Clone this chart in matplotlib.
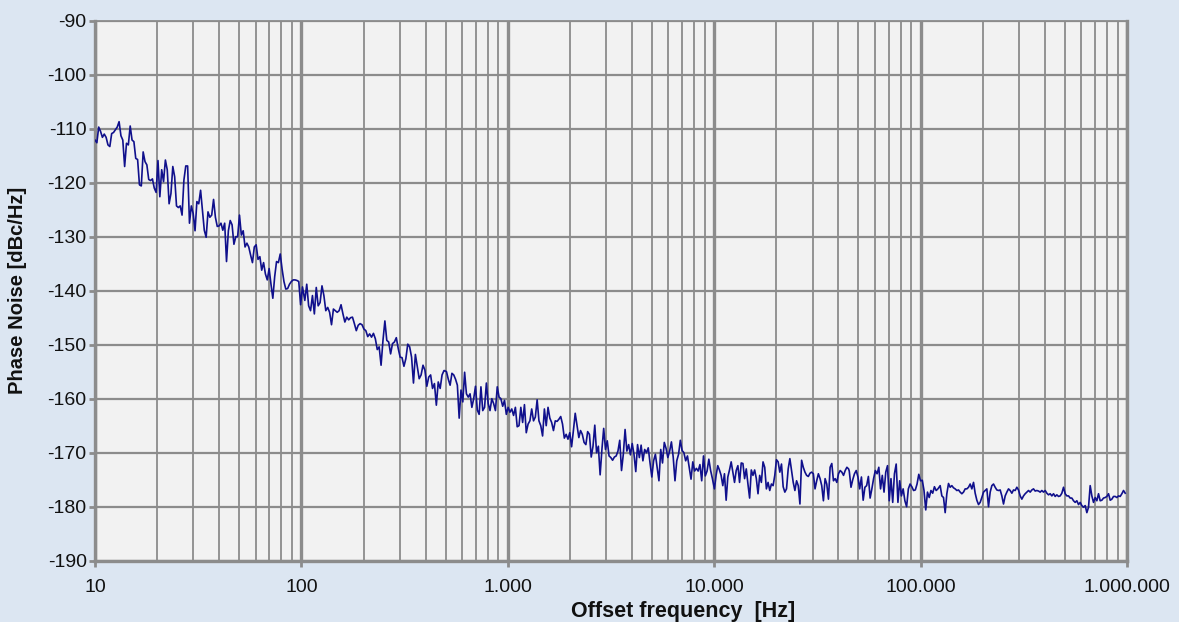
import numpy as np
import matplotlib.pyplot as plt
from matplotlib.ticker import FixedLocator, NullFormatter

plt.rcParams['font.family'] = ['Liberation Sans', 'DejaVu Sans']
plt.rcParams['axes.unicode_minus'] = False

# phase noise readings [dBc/Hz], one list per stretch of the frequency axis
seg_a = [-112.1, -112.6, -109.7, -110.5, -111.6, -111.0, -111.6, -113.0, -113.3, -110.9,
         -110.7, -110.2, -109.7, -108.7, -111.3, -112.1, -117.0, -112.7, -113.0, -109.5,
         -112.1, -112.4, -115.5, -115.7, -120.4, -120.6, -114.3, -116.1, -116.7, -119.4,
         -119.6, -119.3, -121.0, -121.8, -115.9, -122.6, -117.6, -119.8, -115.8, -117.6,
         -123.9, -122.0, -117.0, -118.9, -124.3, -124.6, -124.3, -126.0, -119.5, -116.9,
         -116.9, -127.5, -124.3, -125.7, -128.9, -123.5, -123.9, -121.4, -125.1, -128.8,
         -130.1, -125.4, -126.4, -126.0, -123.1, -126.4, -128.1, -128.0, -127.5, -128.8,
         -127.5, -134.6, -128.9, -127.0, -127.8, -131.4, -130.0, -130.0, -126.0, -129.7,
         -128.9, -131.9, -131.2, -131.9, -133.4, -134.8, -131.9, -131.5, -134.2, -133.7,
         -136.2, -134.8, -136.9, -138.0, -135.9, -138.8, -141.4, -137.4, -134.6, -134.8,
         -133.2, -136.0, -138.3, -139.7, -139.6, -138.8, -138.3, -138.0, -138.0, -138.1,
         -138.3, -142.6, -139.3]
seg_b = [-141.8, -138.8, -142.8, -143.7, -140.9, -144.3, -139.4, -142.8, -142.2, -139.1,
         -140.9, -143.7, -143.1, -144.0, -146.3, -143.4, -143.7, -144.0, -143.7, -142.6,
         -144.3, -145.8, -144.9, -145.4, -145.0, -144.9, -146.1, -147.4, -146.4, -146.1,
         -146.3, -147.1, -147.4, -148.5, -148.0, -148.6, -147.9, -148.9, -150.9, -150.4,
         -153.8, -149.2, -145.6, -149.2, -149.5, -151.7, -149.8, -149.5, -148.7, -150.7,
         -152.3, -152.4, -154.0, -152.6, -149.9, -150.4, -152.3, -157.1, -151.8, -154.0,
         -156.3, -155.6, -153.8, -154.7, -157.7, -156.0, -155.6, -158.1, -157.2, -161.2,
         -156.9, -158.1, -155.6, -154.8]
seg_c = [-154.8, -155.0, -156.4, -157.5, -155.3, -155.6, -156.4, -157.5, -163.6, -158.4,
         -160.6, -155.1, -159.1, -159.7, -159.1, -161.6, -160.0, -157.7, -162.1, -162.9,
         -157.8, -162.2, -161.6, -157.1, -160.9, -162.2, -160.0, -160.9, -162.2, -157.8,
         -159.7, -160.0, -161.4, -160.3, -162.9, -161.6, -162.5, -161.9, -163.1, -161.6,
         -165.2, -165.0, -161.6, -164.4, -161.1, -166.3, -164.7, -164.1, -161.9, -164.1,
         -163.4, -160.2, -164.1, -165.0, -166.9, -161.9, -165.0, -161.6, -163.6, -164.4,
         -165.9, -164.1, -164.2, -163.8, -163.3, -164.7, -167.3, -166.6, -167.5, -166.3,
         -168.9, -165.9, -162.7, -165.0, -167.2]
seg_d = [-165.9, -166.6, -168.1, -168.5, -166.1, -166.6, -170.8, -168.8, -164.9, -170.0,
         -168.8, -174.1, -169.4, -165.5, -169.4, -167.8, -170.6, -170.9, -171.4, -170.8,
         -170.6, -169.7, -167.7, -173.3, -170.3, -165.7, -169.7, -168.5, -170.4, -168.3,
         -170.3, -173.5, -168.5, -170.9, -168.6, -171.5, -169.4, -170.0, -169.1, -171.9,
         -174.5, -171.5, -170.3, -172.8, -175.2, -169.4, -171.9, -168.1, -169.2, -170.9,
         -169.7, -168.0, -170.8, -175.2, -171.5, -170.3, -167.7, -169.6, -170.0, -171.5,
         -170.6, -172.8, -174.9, -171.7, -173.4, -172.9, -173.4, -172.2, -175.2, -170.6,
         -174.3, -173.4, -171.2, -173.3, -174.8]
seg_e = [-176.7, -174.2, -172.4, -173.2, -174.2, -176.1, -173.9, -178.8, -174.5, -173.2,
         -171.7, -173.6, -175.5, -173.3, -172.4, -175.5, -171.9, -172.0, -174.8, -173.0,
         -175.8, -178.4, -173.2, -174.2, -173.2, -174.8, -177.6, -174.2, -175.5, -171.7,
         -172.7, -176.7, -175.5, -177.0, -175.8, -176.1, -174.2, -171.3, -171.7, -173.6,
         -172.1, -176.3, -177.3, -176.7, -173.0, -171.1, -173.3, -175.5, -177.0, -175.2,
         -176.1, -179.5, -171.4, -172.7, -173.6, -174.2, -174.4, -173.8, -173.6, -173.9,
         -176.7, -175.2, -173.9, -174.8, -176.1, -178.9, -174.8, -175.8, -178.6, -172.7,
         -172.0, -175.2, -174.8, -175.5, -173.9, -173.3, -173.6, -174.2, -173.3, -172.7,
         -173.0]
seg_f = [-173.4, -176.4, -175.0, -173.9, -173.3, -174.5, -176.7, -174.5, -178.8, -176.4,
         -176.1, -174.4, -178.4, -176.7, -174.8, -173.3, -173.9, -172.7, -176.7, -174.2,
         -177.3, -173.6, -172.4, -178.9, -174.8, -179.2, -173.9, -172.1, -179.2, -175.2,
         -178.0, -176.7, -178.9, -180.0, -176.7, -175.8, -176.3, -177.0, -176.9, -175.8,
         -174.0, -175.2, -175.1, -177.0, -180.6, -177.3, -178.3, -177.0, -177.5, -176.3,
         -177.0, -176.7]
seg_g = [-176.1, -178.0, -178.3, -181.1, -177.6, -175.7, -176.4, -176.1, -176.5, -176.7,
         -177.0, -176.9, -177.3, -177.6, -177.3, -176.7, -176.7, -176.4, -175.8, -176.7,
         -175.5, -177.5, -178.8, -179.6, -179.2, -178.3, -177.3, -177.0, -176.7, -180.0,
         -177.3, -176.1, -175.8, -176.4, -176.9, -177.0, -176.9, -178.0, -179.5, -178.0,
         -177.3, -176.7, -177.0, -177.5, -176.9, -177.0, -176.4, -176.9, -178.0, -178.6,
         -178.0, -177.6, -177.3, -177.0, -177.3, -176.9, -176.7, -177.1, -177.0, -177.1,
         -177.3, -177.0, -177.3, -177.0, -177.5, -177.8, -177.6, -178.0, -177.6, -178.1,
         -177.8, -178.1, -178.0, -177.5, -176.4, -177.6, -178.0, -178.0, -178.4, -178.4,
         -178.9, -179.2, -178.9, -179.6, -179.2, -179.8, -180.1, -179.8, -181.1, -180.1,
         -176.1, -178.0, -179.2, -178.3, -178.9, -177.6, -178.9, -178.8, -178.4, -178.3,
         -178.1, -177.6, -178.8, -178.6, -178.1, -178.1, -178.3, -178.0, -178.1, -177.6,
         -177.0, -177.5]

# start / end offset frequency [Hz] of each stretch
seg_start = [10, 103.9, 494.5, 2251, 10023, 45120, 124400]
seg_end = [101.2, 490.6, 2209, 9802, 44770, 121300, 980000]
segs = [seg_a, seg_b, seg_c, seg_d, seg_e, seg_f, seg_g]

xticks = [10, 100, 1000, 10000, 100000, 1000000]
xlabels = ['10', '100', '1.000', '10.000', '100.000', '1.000.000']
yticks = list(range(-190, -89, 10))

freq = np.concatenate([np.geomspace(a, b, len(v)) for a, b, v in zip(seg_start, seg_end, segs)])
noise = np.concatenate(segs)

fig = plt.figure(figsize=(11.79, 6.22), dpi=100, facecolor='#dce6f2')
ax = fig.add_axes([95 / 1179, 1 - 560.7 / 622, 1032 / 1179, 540 / 622])
ax.set_facecolor('#f2f2f2')

ax.plot(freq, noise, color='#10108c', lw=1.2, zorder=3)

ax.set_xscale('log')
ax.set_xlim(10, 1e6)
ax.set_ylim(-190, -90)

grid_c = '#8c8c8c'
ax.xaxis.set_major_locator(FixedLocator(xticks))
ax.set_xticklabels(xlabels)
ax.xaxis.set_minor_locator(FixedLocator([m * 10 ** d for d in range(1, 6) for m in range(2, 10)]))
ax.xaxis.set_minor_formatter(NullFormatter())
ax.set_yticks(yticks)

ax.grid(True, which='major', axis='x', color=grid_c, lw=2.4)
ax.grid(True, which='minor', axis='x', color=grid_c, lw=1.3)
ax.grid(True, which='major', axis='y', color=grid_c, lw=1.6)
ax.set_axisbelow(True)

for side in ['left', 'bottom', 'right']:
    ax.spines[side].set_color(grid_c)
    ax.spines[side].set_linewidth(2.4)
ax.spines['top'].set_color(grid_c)
ax.spines['top'].set_linewidth(1.3)

ax.tick_params(axis='both', which='major', direction='out', length=4, width=2,
               color=grid_c, labelsize=14, labelcolor='#111111')
ax.tick_params(axis='x', which='major', pad=9)
ax.tick_params(axis='y', which='major', pad=2)
ax.tick_params(axis='x', which='minor', length=0)

ax.set_ylabel('Phase Noise [dBc/Hz]', fontsize=14.5, fontweight='bold', color='#111111')
ax.yaxis.set_label_coords(-0.066, 0.5)
fig.text(683 / 1179, 1 - 611 / 622, 'Offset frequency  [Hz]', fontsize=15.5,
         fontweight='bold', color='#111111', ha='center', va='center')

fig.savefig('out.png', dpi=100, facecolor=fig.get_facecolor())
